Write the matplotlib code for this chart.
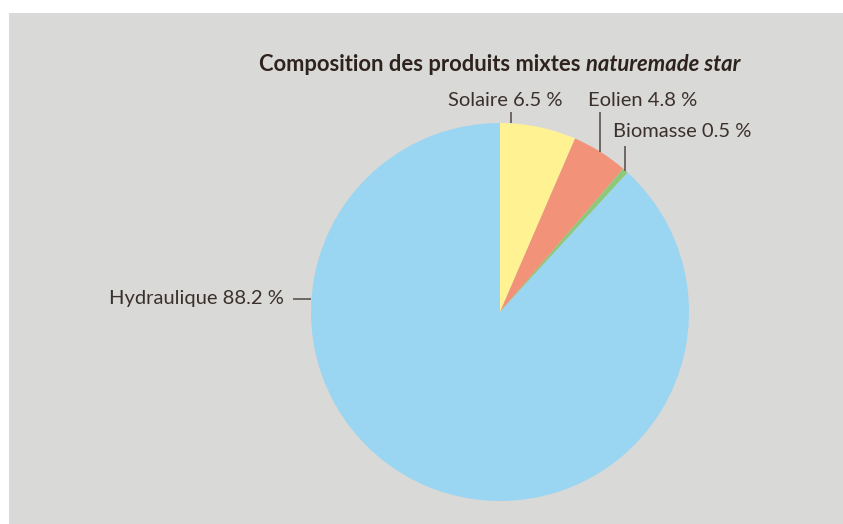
import numpy as np
import matplotlib
matplotlib.use("Agg")
import matplotlib.pyplot as plt

categories = ["Solaire", "Eolien", "Biomasse", "Hydraulique"]
values = [6.5, 4.8, 0.5, 88.2]
colors = ["#fff293", "#f19279", "#8fc77b", "#9ad5f2"]
title_main = "Composition des produits mixtes "
title_ital = "naturemade star"

W, H = 843, 524
fig = plt.figure(figsize=(W / 100, H / 100), dpi=100)
fig.patch.set_facecolor("white")
ax = fig.add_axes([0, 0, 1, 1])

ax.add_patch(plt.Rectangle((9, 13), W - 9, H - 13, facecolor="#d9d9d8", edgecolor="none", zorder=0))

cx, cy, r = 500, 312, 189
# y axis is inverted (pixel coords), so start at data angle -90 (screen top)
# and go counter-clockwise in data space (= clockwise on screen)
wedges, _ = ax.pie(values, colors=colors, startangle=-90, counterclock=True,
                   center=(cx, cy), radius=r, wedgeprops=dict(linewidth=0),
                   frame=True)
ax.set_xlim(0, W)
ax.set_ylim(H, 0)
ax.set_aspect("equal")
ax.axis("off")

txtcol = "#3b302c"
linecol = "#5d534e"
fam = ["Lato", "DejaVu Sans"]
fs = 14.5

def edge_point(theta_deg):
    t = np.deg2rad(theta_deg)
    return cx + r * np.cos(t), cy - r * np.sin(t)

angles = np.cumsum([0] + values)
starts = 90 - angles[:-1] * 3.6
ends = 90 - angles[1:] * 3.6
mids = (starts + ends) / 2

layout = {
    "Solaire": dict(theta=86.7, vertical=True, top=112, tx=505, ty=106, ha="center"),
    "Eolien": dict(theta=mids[1], vertical=True, top=112, tx=643, ty=106, ha="center"),
    "Biomasse": dict(theta=mids[2], vertical=True, top=146, tx=682, ty=137, ha="center"),
    "Hydraulique": dict(theta=176, vertical=False, left=293, tx=284, ty=304, ha="right"),
}

for cat, v in zip(categories, values):
    L = layout[cat]
    ex, ey = edge_point(L["theta"])
    if L["vertical"]:
        ax.plot([ex, ex], [ey, L["top"]], color=linecol, lw=1.2, solid_capstyle="butt", zorder=3)
    else:
        ax.plot([ex, L["left"]], [ey, ey], color=linecol, lw=1.2, solid_capstyle="butt", zorder=3)
    ax.text(L["tx"], L["ty"], f"{cat} {v} %", ha=L["ha"], va="baseline",
            fontsize=fs, color=txtcol, family=fam)

fig.canvas.draw()
renderer = fig.canvas.get_renderer()
tfs = 15.8
t1 = ax.text(0, 71, title_main, ha="left", va="baseline", fontsize=tfs, fontweight="bold",
             color="#2e221d", family=fam)
t2 = ax.text(0, 71, title_ital, ha="left", va="baseline", fontsize=tfs, fontweight="bold",
             style="italic", color="#2e221d", family=fam)
w1 = t1.get_window_extent(renderer).width
w2 = t2.get_window_extent(renderer).width
x0 = cx - (w1 + w2) / 2
t1.set_x(x0)
t2.set_x(x0 + w1)

fig.savefig("out.png", dpi=100, facecolor="white")
